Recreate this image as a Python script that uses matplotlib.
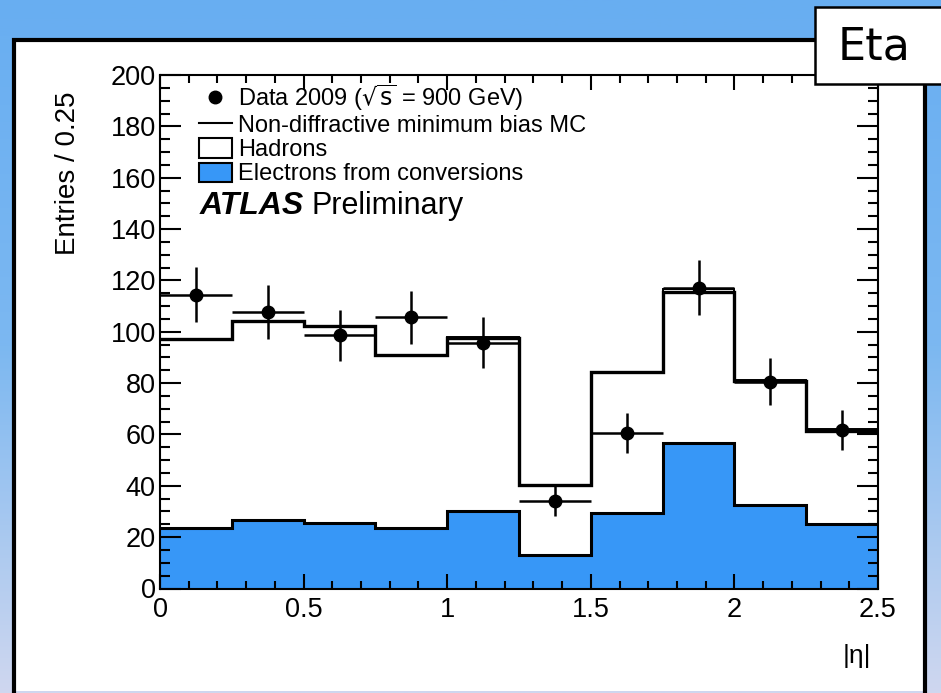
import numpy as np
import matplotlib
matplotlib.use("Agg")
import matplotlib.pyplot as plt
from matplotlib.patches import Rectangle, Patch
from matplotlib.lines import Line2D
from matplotlib.ticker import MultipleLocator
from matplotlib.colors import LinearSegmentedColormap

plt.rcParams['font.family'] = ['Liberation Sans', 'DejaVu Sans']

# |eta| binning, 0.25 per bin
eta_edges = [0.0, 0.25, 0.5, 0.75, 1.0, 1.25, 1.5, 1.75, 2.0, 2.25, 2.5]

# Data 2009 (sqrt(s) = 900 GeV)
data_counts = [114.5, 107.7, 98.7, 105.7, 95.8, 34.2, 60.4, 117.2, 80.6, 61.7]
data_errors = [10.7, 10.4, 9.9, 10.3, 9.8, 5.8, 7.8, 10.8, 9.0, 7.9]

# non-diffractive minimum bias MC (total)
mc_total = [97.0, 104.3, 102.3, 91.0, 98.0, 40.3, 84.3, 116.8, 81.3, 62.2]

# stacked MC components
electrons = [23.7, 26.8, 25.5, 23.5, 30.2, 13.2, 29.5, 56.8, 32.6, 25.0]
hadrons = [73.3, 77.5, 76.8, 67.5, 67.2, 27.1, 54.8, 58.8, 48.4, 36.4]

x_ticks = [0, 0.5, 1, 1.5, 2, 2.5]
x_tick_labels = ['0', '0.5', '1', '1.5', '2', '2.5']

W, H = 941, 693


def fx(px):
    return px / W


def fy(py):
    return 1 - py / H


fig = plt.figure(figsize=(W / 100, H / 100), dpi=100)

# slide background: blue to lavender gradient
bg = fig.add_axes([0, 0, 1, 1], zorder=-3)
bg.axis('off')
cmap = LinearSegmentedColormap.from_list('slide', ['#68aef1', '#7cb8f1', '#cfd7ef'])
bg.imshow(np.linspace(0, 1, 256)[:, None], aspect='auto', cmap=cmap,
          extent=[0, 1, 0, 1])

# white panel with black frame (open at the bottom)
fig.add_artist(Rectangle((fx(14), fy(691)), fx(925) - fx(14), fy(40) - fy(691),
                         transform=fig.transFigure, facecolor='white',
                         edgecolor='none', zorder=-2))
fig.add_artist(Line2D([fx(14), fx(14), fx(925), fx(925)],
                      [fy(691), fy(40), fy(40), fy(691)],
                      transform=fig.transFigure, color='black', lw=3,
                      solid_joinstyle='miter', zorder=-1))

ax = fig.add_axes([fx(160), fy(588.5), fx(878) - fx(160), fy(75) - fy(588.5)])

edges = np.array(eta_edges)
centers = 0.5 * (edges[:-1] + edges[1:])
half_w = 0.5 * (edges[1:] - edges[:-1])
stack_total = np.array(hadrons) + np.array(electrons)

blue = '#3797f7'
ax.stairs(electrons, edges, fill=True, facecolor=blue, edgecolor='none', baseline=0)
ax.stairs(electrons, edges, color='black', lw=2.2, baseline=None)
ax.stairs(stack_total, edges, color='black', lw=2.4, baseline=None)
ax.stairs(mc_total, edges, color='black', lw=1.4, baseline=None)
ax.errorbar(centers, data_counts, yerr=data_errors, xerr=half_w, fmt='o',
            color='black', ms=9, elinewidth=1.8, capsize=0, zorder=5)

ax.set_xlim(0, 2.5)
ax.set_ylim(0, 200)
ax.set_xticks(x_ticks, x_tick_labels)
ax.xaxis.set_minor_locator(MultipleLocator(0.1))
ax.yaxis.set_major_locator(MultipleLocator(20))
ax.yaxis.set_minor_locator(MultipleLocator(5))
ax.tick_params(which='both', direction='in', top=True, right=True, width=1.5,
               labelsize=19.5)
ax.tick_params(axis='x', which='major', length=11, pad=6)
ax.tick_params(axis='x', which='minor', length=5.5)
ax.tick_params(axis='y', which='major', length=15, pad=3)
ax.tick_params(axis='y', which='minor', length=7.5)
for sp in ax.spines.values():
    sp.set_linewidth(1.5)

ax.text((68 - 160) / 718, 0.967, 'Entries / 0.25', rotation=90, ha='center',
        va='top', fontsize=20, transform=ax.transAxes)
ax.text((871 - 160) / 718, (588.5 - 656) / 513.5, '|η|', ha='right',
        va='center', fontsize=19, transform=ax.transAxes)

handles = [
    Line2D([], [], marker='o', ls='none', color='black', ms=9),
    Line2D([], [], color='black', lw=1.5),
    Patch(facecolor='white', edgecolor='black', lw=1.5),
    Patch(facecolor=blue, edgecolor='black', lw=1.5),
]
labels = [r'Data 2009 ($\sqrt{\mathrm{s}}$ = 900 GeV)',
          'Non-diffractive minimum bias MC', 'Hadrons',
          'Electrons from conversions']
ax.legend(handles, labels, loc='upper left', bbox_to_anchor=(0.054, 0.985),
          frameon=False, fontsize=17, handlelength=1.4, handleheight=0.9,
          handletextpad=0.25, labelspacing=0.05, borderaxespad=0, borderpad=0)

ax.text((200 - 160) / 718, 0.745, 'ATLAS', fontsize=23, fontweight='bold',
        style='italic', va='center', transform=ax.transAxes)
ax.text((311 - 160) / 718, 0.745, 'Preliminary', fontsize=22, va='center',
        transform=ax.transAxes)

# "Eta" tag in the top right corner
fig.add_artist(Rectangle((fx(815), fy(84)), fx(960) - fx(815), fy(7) - fy(84),
                         transform=fig.transFigure, facecolor='white',
                         edgecolor='black', lw=1.8, zorder=5))
fig.text(fx(874), fy(47), 'Eta', fontsize=32, family='DejaVu Sans',
         ha='center', va='center', zorder=6)

fig.savefig('out.png', dpi=100)
